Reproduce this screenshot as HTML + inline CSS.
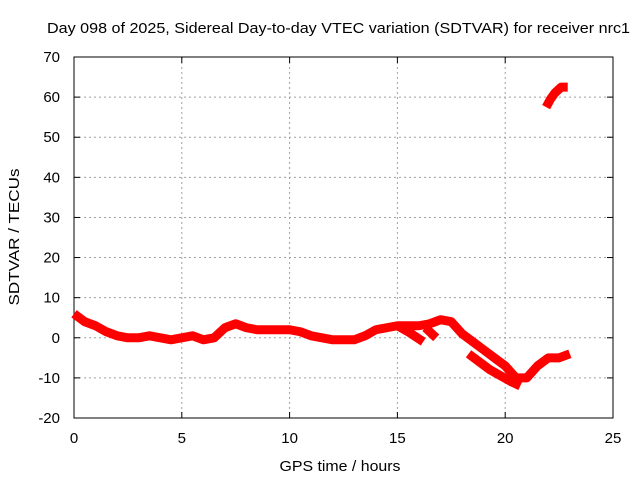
<!DOCTYPE html>
<html><head><meta charset="utf-8"><style>
body{margin:0;background:#fff;}
svg{display:block;font-family:"Liberation Sans",sans-serif;}
</style></head><body>
<svg id="chart" width="640" height="480" viewBox="0 0 640 480"></svg>
<script>
const xTicks=[0,5,10,15,20,25];
const yTicks=[-20,-10,0,10,20,30,40,50,60,70];
const mainHours=[0,0.5,1,1.5,2,2.5,3,3.5,4,4.5,5,5.5,6,6.5,7,7.5,8,8.5,9,9.5,10,10.5,11,11.5,12,12.5,13,13.5,14,14.5,15,15.5,16,16.5,17,17.5,18,18.5,19,19.5,20,20.5,21,21.5,22,22.5,23];
const mainValues=[6,4,3,1.5,0.5,0,0,0.5,0,-0.5,0,0.5,-0.5,0,2.5,3.5,2.5,2,2,2,2,1.5,0.5,0,-0.5,-0.5,-0.5,0.5,2,2.5,3,3,3,3.5,4.5,4,1,-1,-3,-5,-7,-10,-10,-7,-5,-5,-4];
const branchHours=[18.3,18.8,19.3,19.8,20.3,20.7];
const branchValues=[-4,-6,-8,-9.5,-11,-12];
const branch2Hours=[15,15.5,16.2];
const branch2Values=[3,1.5,-1];
const branch3Hours=[16.3,16.8];
const branch3Values=[2.5,0];
const topHours=[21.9,22.1,22.3,22.6,22.9];
const topValues=[57.5,59.5,61,62.5,62.5];
const L=74,R=613,T=57,B=418;
const xs=h=>L+(h-0)/25*(R-L);
const ys=v=>B-(v+20)/90*(B-T);
const svg=document.getElementById('chart');
const NS='http://www.w3.org/2000/svg';
function mk(t,a){const e=document.createElementNS(NS,t);for(const k in a)e.setAttribute(k,a[k]);svg.appendChild(e);return e;}
let e=mk('text',{x:47,y:33,'font-size':15,fill:'#000',textLength:583,lengthAdjust:'spacingAndGlyphs'});
e.textContent='Day 098 of 2025, Sidereal Day-to-day VTEC variation (SDTVAR) for receiver nrc1';


xTicks.forEach(t=>{const x=xs(t);
 if(t>0&&t<25){e=mk('line',{x1:x,y1:T,x2:x,y2:B,stroke:'#a0a0a0','stroke-dasharray':'2,3'});}
 mk('line',{x1:x,y1:B,x2:x,y2:B-6,stroke:'#000'});mk('line',{x1:x,y1:T,x2:x,y2:T+6,stroke:'#000'});
 e=mk('text',{x:x,y:B+25,'text-anchor':'middle','font-size':15});e.textContent=t;
 });
yTicks.forEach(t=>{const y=ys(t);
 if(t>-20&&t<70){e=mk('line',{x1:L,y1:y,x2:R,y2:y,stroke:'#a0a0a0','stroke-dasharray':'2,3'});}
 mk('line',{x1:L,y1:y,x2:L+6,y2:y,stroke:'#000'});mk('line',{x1:R,y1:y,x2:R-6,y2:y,stroke:'#000'});
 e=mk('text',{x:L-14,y:y+5,'text-anchor':'end','font-size':15});e.textContent=t;
 });
e=mk('rect',{x:L,y:T,width:R-L,height:B-T,fill:'none',stroke:'#000'});

e=mk('text',{x:340,y:471,'text-anchor':'middle','font-size':15,textLength:121,lengthAdjust:'spacingAndGlyphs'});e.textContent='GPS time / hours';

e=mk('text',{x:0,y:0,'text-anchor':'middle','font-size':15,textLength:137,lengthAdjust:'spacingAndGlyphs',transform:'translate(19,237) rotate(-90)'});e.textContent='SDTVAR / TECUs';

function series(hs,vs,name){const pts=hs.map((h,i)=>xs(h)+','+ys(vs[i])).join(' ');
 const p=mk('polyline',{points:pts,fill:'none',stroke:'#ff0000','stroke-width':9,'stroke-linejoin':'round','stroke-linecap':'butt'});
 }
series(mainHours,mainValues,'sdtvar-main-trace');
series(branchHours,branchValues,'sdtvar-branch-trace');
series(branch2Hours,branch2Values,'sdtvar-branch-trace-2');
series(branch3Hours,branch3Values,'sdtvar-branch-trace-3');
series(topHours,topValues,'sdtvar-high-trace');
</script>
</body></html>
